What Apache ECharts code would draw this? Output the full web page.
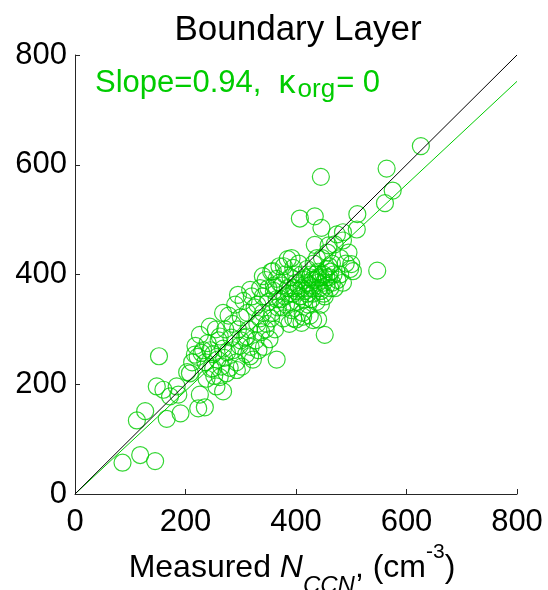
<!DOCTYPE html>
<html>
<head>
<meta charset="utf-8">
<script src="https://cdn.jsdelivr.net/npm/echarts@6/dist/echarts.min.js"></script>
<style>
  html, body { margin: 0; padding: 0; background: #fff; }
  #chart { width: 548px; height: 590px; }
</style>
</head>
<body>
<div id="chart"></div>
<script>
// Measured vs predicted CCN number concentration (cm^-3), boundary-layer samples
const measured = [
  86, 118, 145, 112, 127, 166, 191, 152, 148, 160, 184, 172, 187, 223, 235, 226, 208, 217, 229, 262,
  293, 274, 250, 262, 268, 256, 226, 317, 311, 244, 268, 295, 317, 340, 358, 365, 452, 547, 503, 500,
  626, 564, 575, 561, 511, 445, 407, 434, 446, 510, 434, 474, 485, 459,
  203, 212, 218, 222, 232, 236, 240, 246, 250, 252, 255, 258, 260, 265, 268, 238, 245, 270,
  272, 275, 278, 280, 283, 286, 290, 292, 295, 298, 300, 302, 305, 308, 310, 312, 315, 318, 320, 322, 285, 300,
  325, 327, 330, 332, 335, 337, 340, 342, 345, 347, 350, 352, 355, 357, 360, 362, 365, 367, 370, 372,
  330, 340, 350, 360, 335, 345, 355, 365,
  375, 377, 380, 382, 385, 387, 390, 392, 395, 397, 400, 402, 405, 407, 410, 412, 415, 417, 420, 422,
  380, 385, 390, 395, 400, 405, 410, 415, 420, 400, 395, 410, 400, 388, 375, 370, 392, 378,
  425, 427, 430, 432, 435, 437, 440, 442, 445, 447, 450, 452, 455, 457, 460, 462, 465, 468, 470, 475,
  480, 485, 490, 425, 430, 435, 440, 445, 450, 455, 460, 465, 430, 440, 450, 455, 425, 440, 445, 428,
  480, 470, 495, 438, 420, 462, 498, 485, 431, 413
];
const predicted = [
  57, 71, 60, 134, 151, 137, 147, 251, 196, 190, 196, 178, 181, 156, 158, 181, 220, 254, 257, 287,
  226, 220, 229, 213, 187, 196, 290, 251, 287, 305, 330, 363, 372, 397, 406, 245, 290, 407, 406, 419,
  634, 593, 553, 530, 510, 578, 502, 506, 485, 482, 454, 473, 477, 453,
  222, 240, 270, 250, 262, 240, 275, 228, 255, 215, 300, 245, 280, 232, 265, 210, 262, 248,
  300, 258, 325, 230, 285, 262, 345, 240, 300, 270, 322, 232, 352, 285, 255, 330, 300, 268, 360, 245, 310, 280,
  340, 280, 310, 262, 375, 295, 330, 268, 390, 310, 350, 282, 405, 330, 370, 300, 392, 340, 415, 355,
  345, 360, 375, 380, 320, 300, 320, 355,
  380, 320, 400, 345, 428, 365, 395, 335, 412, 375, 385, 350, 420, 360, 400, 330, 390, 370, 410, 345,
  360, 375, 350, 365, 370, 380, 375, 355, 385, 400, 320, 312, 318, 310, 340, 385, 430, 415,
  380, 400, 365, 420, 390, 350, 405, 375, 395, 430, 385, 360, 410, 440, 395, 375, 420, 400, 455, 390,
  430, 462, 420, 395, 390, 400, 385, 370, 400, 380, 415, 385, 375, 395, 365, 395, 325, 318, 345, 355,
  400, 375, 440, 430, 365, 405, 410, 385, 317, 323
];
const axisTicks = [0, 200, 400, 600, 800];
const slope = 0.94;
const kappaOrg = 0;

const FONT = '"Liberation Sans", Arial, Helvetica, sans-serif';
const GREEN = '#00cc00';
const AXIS = '#262626';

const points = measured.map((x, i) => [x, predicted[i]]);
const axisMin = axisTicks[0];
const axisMax = axisTicks[axisTicks.length - 1];
const step = axisTicks[1] - axisTicks[0];
const oneToOne = [[axisMin, axisMin], [axisMax, axisMax]];
const fitLine = [[axisMin, slope * axisMin], [axisMax, slope * axisMax]];

const chart = echarts.init(document.getElementById('chart'), null, { renderer: 'canvas' });

function valueAxis(margin) {
  return {
    type: 'value',
    min: axisMin,
    max: axisMax,
    interval: step,
    axisLine: { show: true, onZero: false, lineStyle: { color: AXIS, width: 1 } },
    axisTick: { show: true, inside: true, length: 5, lineStyle: { color: AXIS, width: 1 } },
    axisLabel: { show: true, fontSize: 31, color: '#000', fontFamily: FONT, margin: margin },
    splitLine: { show: false }
  };
}

const option = {
  backgroundColor: '#fff',
  animation: false,
  grid: { left: 75, right: 31, top: 55, bottom: 96, containLabel: false },
  xAxis: valueAxis(13),
  yAxis: valueAxis(8),
  series: [
    {
      type: 'scatter',
      data: points,
      symbol: 'circle',
      symbolSize: 17,
      itemStyle: { color: 'rgba(0,0,0,0)', borderColor: GREEN, borderWidth: 1.2 },
      silent: true,
      z: 2
    },
    {
      type: 'line',
      data: oneToOne,
      symbol: 'none',
      lineStyle: { color: '#000', width: 1 },
      silent: true,
      z: 4
    },
    {
      type: 'line',
      data: fitLine,
      symbol: 'none',
      lineStyle: { color: GREEN, width: 1 },
      silent: true,
      z: 3
    }
  ],
  graphic: [
    {
      type: 'text',
      x: 298,
      y: 30,
      style: {
        text: 'Boundary Layer',
        font: '35px ' + FONT,
        fill: '#000',
        align: 'center',
        verticalAlign: 'middle'
      }
    },
    {
      type: 'text',
      x: 95,
      y: 68,
      style: {
        text: '{m|Slope=' + slope.toFixed(2) + ',  }{k|\u03ba}{s|org}{m|= ' + kappaOrg + '}',
        align: 'left',
        verticalAlign: 'top',
        rich: {
          m: { fontSize: 31, lineHeight: 31, fontFamily: FONT, fill: GREEN, color: GREEN, verticalAlign: 'top' },
          k: { fontSize: 34, lineHeight: 34, padding: [-1, 1, 0, 0], fontFamily: FONT, fill: GREEN, color: GREEN, verticalAlign: 'top' },
          s: { fontSize: 26, lineHeight: 26, padding: [9, 1, 0, 1], fontFamily: FONT, fill: GREEN, color: GREEN, verticalAlign: 'top' }
        }
      }
    },
    {
      type: 'text',
      x: 292,
      y: 536,
      style: {
        text: '{m|Measured }{n|N}{s|CCN}{m|, (cm}{p|-3}{m|)}',
        align: 'center',
        verticalAlign: 'top',
        rich: {
          m: { fontSize: 32, lineHeight: 32, padding: [16, 0, 0, 0], fontFamily: FONT, fill: '#000', color: '#000', verticalAlign: 'top' },
          n: { fontSize: 32, lineHeight: 32, padding: [16, 0, 0, 0], fontStyle: 'italic', fontFamily: FONT, fill: '#000', color: '#000', verticalAlign: 'top' },
          s: { fontSize: 24, lineHeight: 24, padding: [38, 0, 0, 0], fontStyle: 'italic', fontFamily: FONT, fill: '#000', color: '#000', verticalAlign: 'top' },
          p: { fontSize: 21, lineHeight: 21, padding: [6, 0, 0, 0], fontFamily: FONT, fill: '#000', color: '#000', verticalAlign: 'top' }
        }
      }
    }
  ]
};

chart.setOption(option);
</script>
</body>
</html>
